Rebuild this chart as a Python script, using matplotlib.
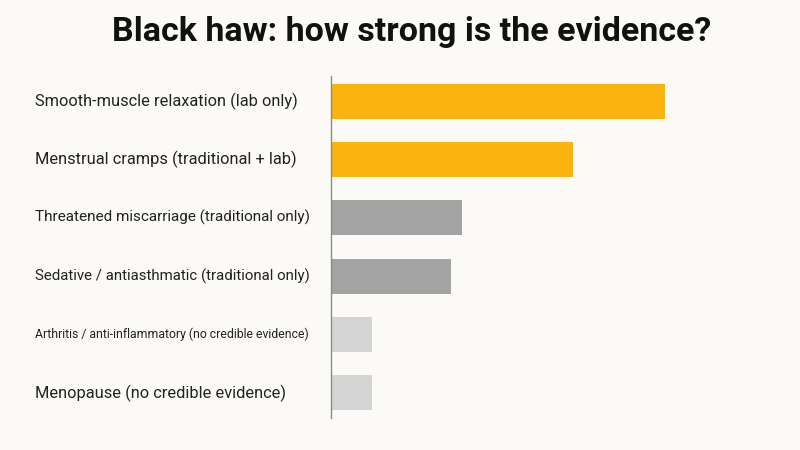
import matplotlib.pyplot as plt
from matplotlib import font_manager

# --- Data -----------------------------------------------------------------

labels = [
    "Smooth-muscle relaxation (lab only)",
    "Menstrual cramps (traditional + lab)",
    "Threatened miscarriage (traditional only)",
    "Sedative / antiasthmatic (traditional only)",
    "Arthritis / anti-inflammatory (no credible evidence)",
    "Menopause (no credible evidence)",
]
scores = [8.15, 5.9, 3.2, 2.93, 1.0, 1.0]
colors = ["#FBB40F", "#FBB40F", "#A3A3A3", "#A3A3A3", "#D4D4D4", "#D4D4D4"]

BG = "#FBFAF6"
MAX_LABEL_PX = 276   # long labels are squeezed to this width in the original

# --------------------------------------------------------------------------

installed = {f.name for f in font_manager.fontManager.ttflist}
narrow = "Liberation Sans Narrow" if "Liberation Sans Narrow" in installed else None

W, H = 800, 450
fig = plt.figure(figsize=(8, 4.5), dpi=100, facecolor=BG)
ax = fig.add_axes([331 / W, 1 - 418 / H, 410 / W, 342 / H], facecolor=BG)

ypos = list(range(len(labels)))
ax.barh(ypos, scores, height=0.6, color=colors)
ax.set_xlim(0, 10)
ax.set_ylim(len(labels) - 0.57, -0.43)

for s in ["top", "right", "bottom"]:
    ax.spines[s].set_visible(False)
ax.spines["left"].set_color("#8A8A8A")
ax.spines["left"].set_linewidth(1.0)
ax.set_xticks([])
ax.set_yticks([])

renderer = fig.canvas.get_renderer()
for i, lab in enumerate(labels):
    t = ax.annotate(lab, xy=(0, i), xycoords=("axes fraction", "data"),
                    xytext=(35 / W, 0), textcoords=("figure fraction", "offset points"),
                    ha="left", va="center", fontsize=11.8, family="Roboto",
                    color="#222222")
    w = t.get_window_extent(renderer).width
    if w > MAX_LABEL_PX:
        if narrow and w > 300:
            t.set_family(narrow)
            t.set_fontsize(12.5)
            w = t.get_window_extent(renderer).width
        if w > MAX_LABEL_PX:
            t.set_fontsize(t.get_fontsize() * MAX_LABEL_PX / w)

fig.text(0.514, 1 - 32 / H, "Black haw: how strong is the evidence?",
         ha="center", va="center", fontsize=24.5, fontweight="bold",
         family="Roboto", color="#111111")

fig.savefig("out.png", dpi=100, facecolor=BG)
